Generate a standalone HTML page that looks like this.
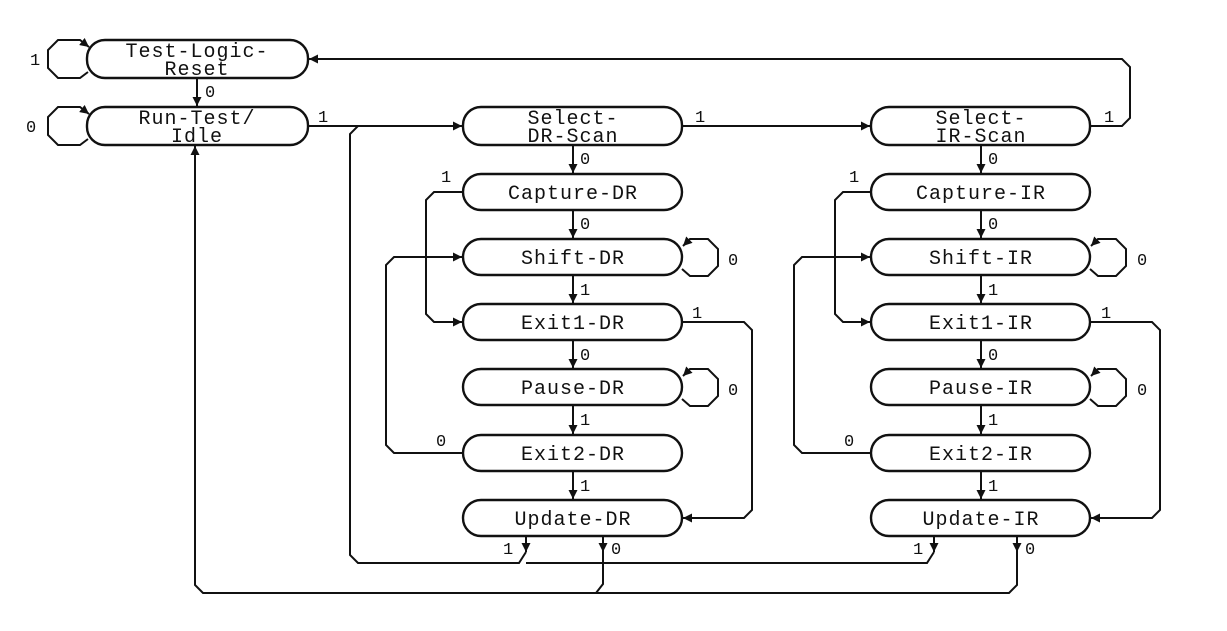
<!DOCTYPE html>
<html><head><meta charset="utf-8"><style>
html,body{margin:0;padding:0;background:#fff;}
svg{display:block}
text{font-family:"Liberation Mono",monospace;fill:#111;}
.n{font-size:20px;text-anchor:middle;letter-spacing:1px}
.l{font-size:17px}
</style></head><body>
<svg width="1227" height="631" viewBox="0 0 1227 631" xmlns="http://www.w3.org/2000/svg">
<defs>
<marker id="a" viewBox="0 0 10 10" refX="10" refY="5" markerWidth="9" markerHeight="9" orient="auto" markerUnits="userSpaceOnUse"><path d="M0,0 L10,5 L0,10 z" fill="#111"/></marker>
</defs>
<g fill="none" stroke="#111" stroke-width="2.4">
<rect x="87" y="40" width="221" height="38" rx="18"/>
<rect x="87" y="107" width="221" height="38" rx="18"/>
<rect x="463" y="107" width="219" height="38" rx="18"/>
<rect x="871" y="107" width="219" height="38" rx="18"/>
<rect x="463" y="174" width="219" height="36" rx="18"/>
<rect x="463" y="239" width="219" height="36" rx="18"/>
<rect x="463" y="304" width="219" height="36" rx="18"/>
<rect x="463" y="369" width="219" height="36" rx="18"/>
<rect x="463" y="435" width="219" height="36" rx="18"/>
<rect x="463" y="500" width="219" height="36" rx="18"/>
<rect x="871" y="174" width="219" height="36" rx="18"/>
<rect x="871" y="239" width="219" height="36" rx="18"/>
<rect x="871" y="304" width="219" height="36" rx="18"/>
<rect x="871" y="369" width="219" height="36" rx="18"/>
<rect x="871" y="435" width="219" height="36" rx="18"/>
<rect x="871" y="500" width="219" height="36" rx="18"/>
</g>
<g fill="none" stroke="#111" stroke-width="2">
<polyline points="88,72 80,78 58,78 48,68 48,50 58,40 80,40 89,47" marker-end="url(#a)"/>
<polyline points="88,139 80,145 58,145 48,135 48,117 58,107 80,107 89,114" marker-end="url(#a)"/>
<line x1="197" y1="78" x2="197" y2="106" marker-end="url(#a)"/>
<line x1="308" y1="126" x2="462" y2="126" marker-end="url(#a)"/>
<line x1="682" y1="126" x2="870" y2="126" marker-end="url(#a)"/>
<polyline points="1090,126 1122,126 1130,118 1130,67 1122,59 309,59" marker-end="url(#a)"/>
<line x1="573" y1="145" x2="573" y2="173" marker-end="url(#a)"/>
<line x1="573" y1="210" x2="573" y2="238" marker-end="url(#a)"/>
<line x1="573" y1="275" x2="573" y2="303" marker-end="url(#a)"/>
<line x1="573" y1="340" x2="573" y2="368" marker-end="url(#a)"/>
<line x1="573" y1="405" x2="573" y2="434" marker-end="url(#a)"/>
<line x1="573" y1="471" x2="573" y2="499" marker-end="url(#a)"/>
<line x1="981" y1="145" x2="981" y2="173" marker-end="url(#a)"/>
<line x1="981" y1="210" x2="981" y2="238" marker-end="url(#a)"/>
<line x1="981" y1="275" x2="981" y2="303" marker-end="url(#a)"/>
<line x1="981" y1="340" x2="981" y2="368" marker-end="url(#a)"/>
<line x1="981" y1="405" x2="981" y2="434" marker-end="url(#a)"/>
<line x1="981" y1="471" x2="981" y2="499" marker-end="url(#a)"/>
<polyline points="682,269 690,276 708,276 718,266 718,249 708,239 690,239 683,246" marker-end="url(#a)"/>
<polyline points="682,399 690,406 708,406 718,396 718,379 708,369 690,369 683,376" marker-end="url(#a)"/>
<polyline points="1090,269 1098,276 1116,276 1126,266 1126,249 1116,239 1098,239 1091,246" marker-end="url(#a)"/>
<polyline points="1090,399 1098,406 1116,406 1126,396 1126,379 1116,369 1098,369 1091,376" marker-end="url(#a)"/>
<polyline points="463,192 434,192 426,200 426,314 434,322 462,322" marker-end="url(#a)"/>
<polyline points="871,192 843,192 835,200 835,314 843,322 870,322" marker-end="url(#a)"/>
<polyline points="463,453 394,453 386,445 386,265 394,257 462,257" marker-end="url(#a)"/>
<polyline points="871,453 802,453 794,445 794,265 802,257 870,257" marker-end="url(#a)"/>
<polyline points="682,322 744,322 752,330 752,510 744,518 683,518" marker-end="url(#a)"/>
<polyline points="1090,322 1152,322 1160,330 1160,510 1152,518 1091,518" marker-end="url(#a)"/>
<line x1="526" y1="536" x2="526" y2="552" marker-end="url(#a)"/>
<line x1="934" y1="536" x2="934" y2="552" marker-end="url(#a)"/>
<polyline points="526,552 519,563 358,563 350,555 350,134 358,126"/>
<polyline points="934,552 927,563 526,563"/>
<line x1="603" y1="536" x2="603" y2="552" marker-end="url(#a)"/>
<line x1="1017" y1="536" x2="1017" y2="552" marker-end="url(#a)"/>
<polyline points="603,550 603,584 596,593 203,593 195,585 195,146" marker-end="url(#a)"/>
<polyline points="1017,550 1017,585 1009,593 596,593"/>
</g>
<text class="n" x="197" y="57">Test-Logic-</text>
<text class="n" x="197" y="75">Reset</text>
<text class="n" x="197" y="124">Run-Test/</text>
<text class="n" x="197" y="142">Idle</text>
<text class="n" x="573" y="124">Select-</text>
<text class="n" x="573" y="142">DR-Scan</text>
<text class="n" x="981" y="124">Select-</text>
<text class="n" x="981" y="142">IR-Scan</text>
<text class="n" x="573" y="199">Capture-DR</text>
<text class="n" x="573" y="264">Shift-DR</text>
<text class="n" x="573" y="329">Exit1-DR</text>
<text class="n" x="573" y="394">Pause-DR</text>
<text class="n" x="573" y="460">Exit2-DR</text>
<text class="n" x="573" y="525">Update-DR</text>
<text class="n" x="981" y="199">Capture-IR</text>
<text class="n" x="981" y="264">Shift-IR</text>
<text class="n" x="981" y="329">Exit1-IR</text>
<text class="n" x="981" y="394">Pause-IR</text>
<text class="n" x="981" y="460">Exit2-IR</text>
<text class="n" x="981" y="525">Update-IR</text>
<g class="l">
<text x="30" y="65">1</text>
<text x="26" y="132">0</text>
<text x="205" y="97">0</text>
<text x="318" y="122">1</text>
<text x="695" y="122">1</text>
<text x="1104" y="122">1</text>
<text x="580" y="164">0</text>
<text x="988" y="164">0</text>
<text x="441" y="182">1</text>
<text x="849" y="182">1</text>
<text x="580" y="229">0</text>
<text x="988" y="229">0</text>
<text x="728" y="265">0</text>
<text x="1137" y="265">0</text>
<text x="580" y="295">1</text>
<text x="988" y="295">1</text>
<text x="692" y="318">1</text>
<text x="1101" y="318">1</text>
<text x="580" y="360">0</text>
<text x="988" y="360">0</text>
<text x="728" y="395">0</text>
<text x="1137" y="395">0</text>
<text x="580" y="425">1</text>
<text x="988" y="425">1</text>
<text x="436" y="446">0</text>
<text x="844" y="446">0</text>
<text x="580" y="491">1</text>
<text x="988" y="491">1</text>
<text x="503" y="554">1</text>
<text x="611" y="554">0</text>
<text x="913" y="554">1</text>
<text x="1025" y="554">0</text>
</g>
</svg>
</body></html>
